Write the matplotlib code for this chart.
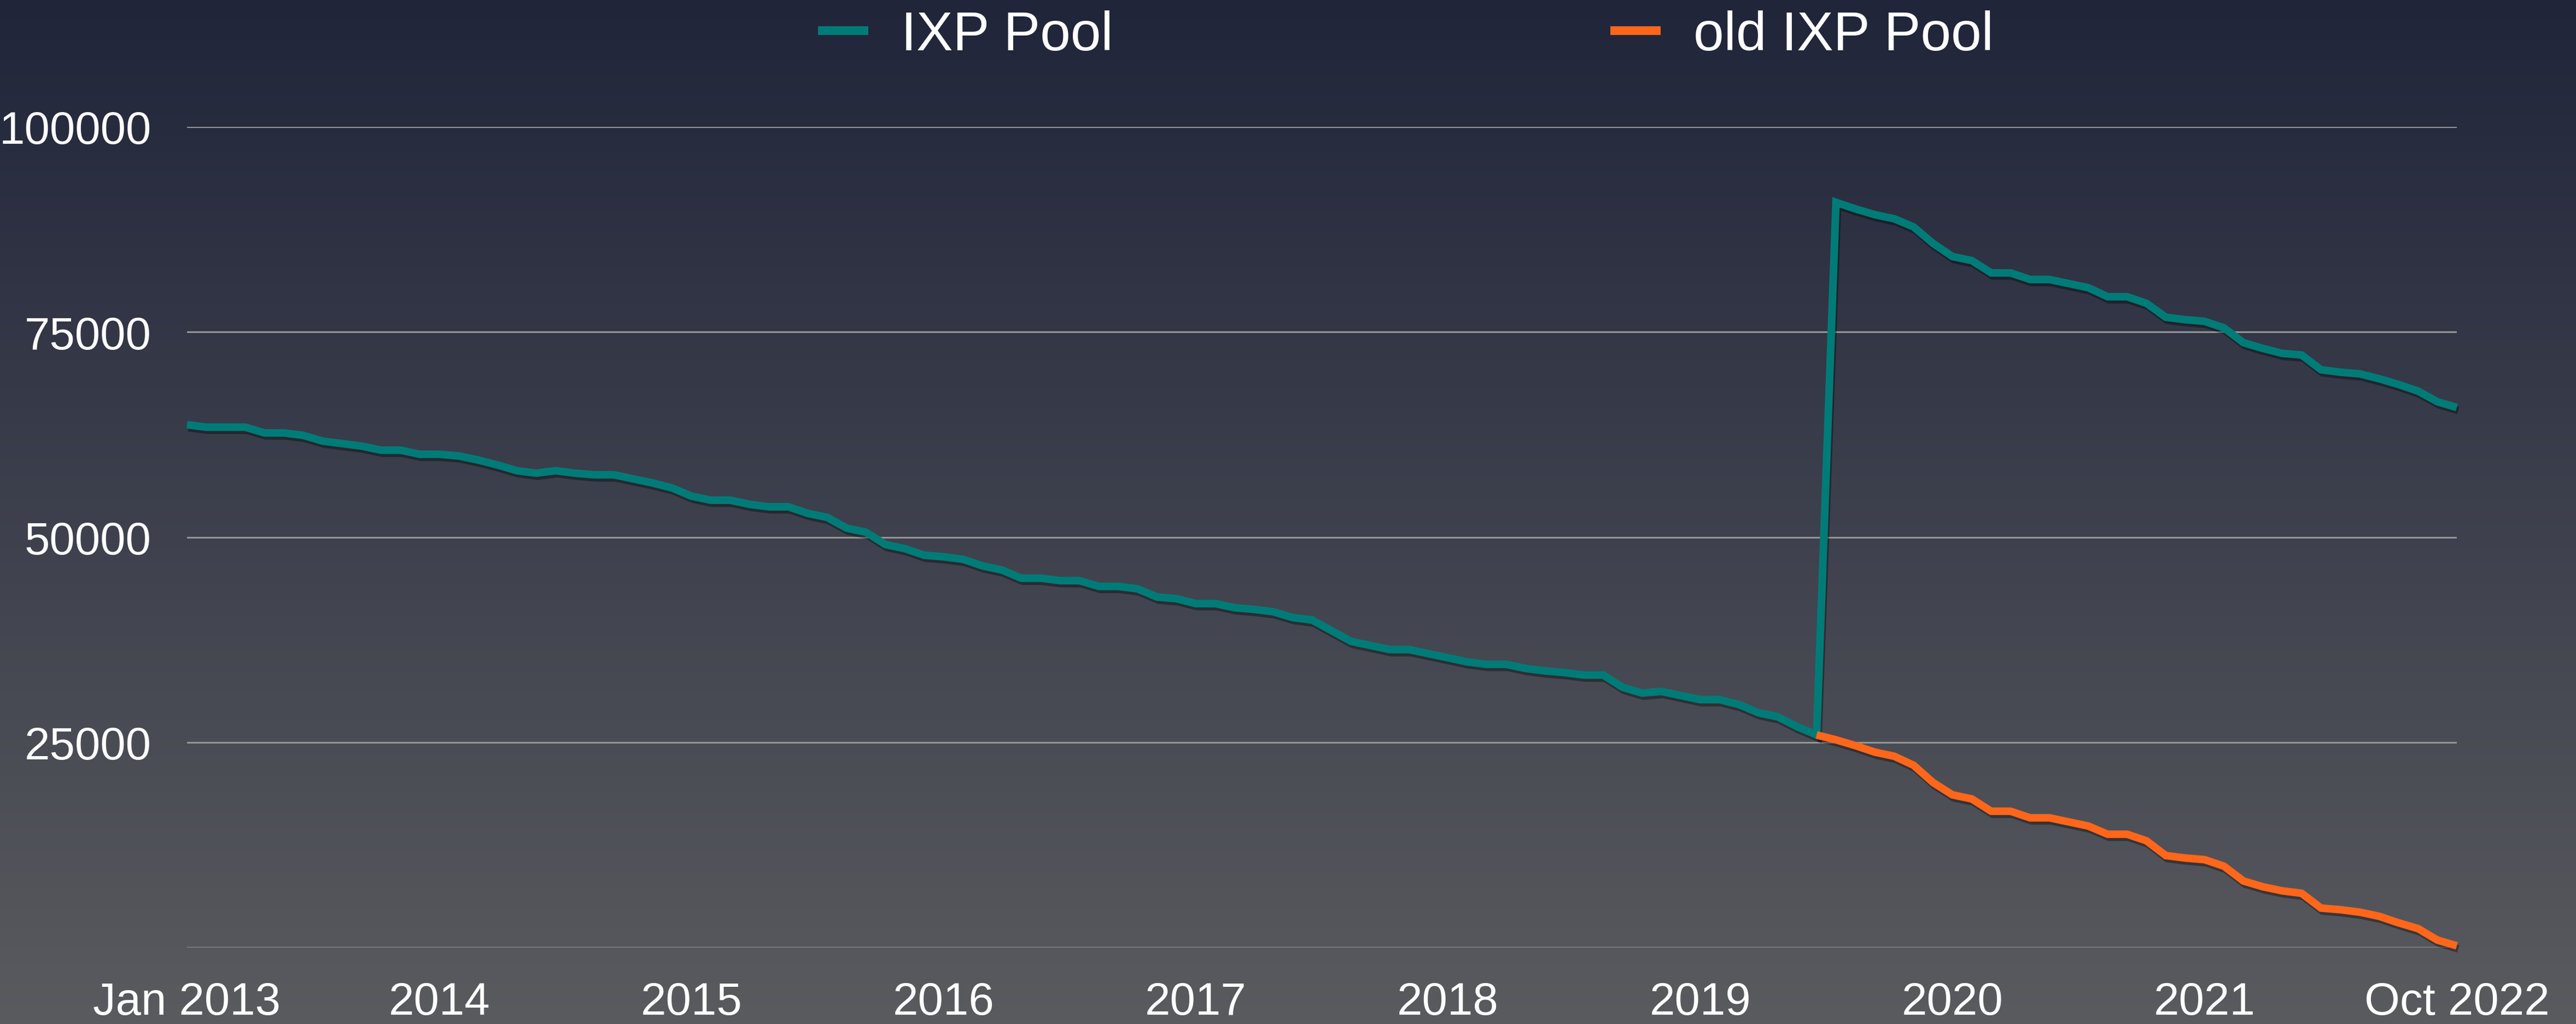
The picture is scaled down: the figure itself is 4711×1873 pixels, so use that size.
import numpy as np
import matplotlib
matplotlib.use("Agg")
import matplotlib.pyplot as plt
import matplotlib.patheffects as pe
from matplotlib.colors import LinearSegmentedColormap
from matplotlib.lines import Line2D

# ── Data (monthly, Jan 2013 .. Oct 2022) ────────────────────────────────
ixp_pool = [
    63700, 63400, 63400, 63400, 62700, 62700, 62400, 61700, 61400, 61100,
    60600, 60600, 60100, 60100, 59900, 59400, 58800, 58100, 57800, 58100,
    57800, 57600, 57600, 57100, 56600, 56000, 55000, 54500, 54500, 54000,
    53700, 53700, 52900, 52400, 51100, 50600, 49100, 48600, 47800, 47600,
    47300, 46500, 46000, 45000, 45000, 44700, 44700, 44000, 44000, 43700,
    42700, 42500, 41900, 41900, 41400, 41200, 40900, 40200, 39900, 38600,
    37300, 36800, 36300, 36300, 35800, 35300, 34800, 34500, 34500, 34000,
    33700, 33500, 33200, 33200, 31700, 31000, 31200, 30700, 30200, 30200,
    29600, 28600, 28100, 26900, 25900, 90800, 90000, 89300, 88800, 87800,
    85800, 84200, 83700, 82200, 82200, 81400, 81400, 80900, 80400, 79300,
    79300, 78500, 76800, 76500, 76300, 75500, 73700, 73000, 72400, 72200,
    70400, 70100, 69900, 69300, 68600, 67800, 66500, 65800,
]
old_ixp_pool = [
    25900, 25300, 24600, 23800, 23300, 22200, 20100, 18600, 18100, 16600,
    16600, 15800, 15800, 15300, 14800, 13800, 13800, 13000, 11200, 10900,
    10700, 9900, 8100, 7400, 6900, 6600, 4800, 4600, 4300, 3800,
    3000, 2300, 900, 200,
]
old_start = 84  # month index where the old pool series begins

x_labels = ["Jan 2013", "2014", "2015", "2016", "2017", "2018", "2019",
            "2020", "2021", "Oct 2022"]
y_ticks = [0, 25000, 50000, 75000, 100000]
y_labels = ["", "25000", "50000", "75000", "100000"]

TEAL = "#007c78"
ORANGE = "#ff661a"
GRID = "#969696"

plt.rcParams["font.family"] = ["Liberation Sans", "DejaVu Sans"]

fig = plt.figure(figsize=(47.11, 18.74), dpi=100)

# background gradient
bg = fig.add_axes([0, 0, 1, 1], zorder=-10)
cmap = LinearSegmentedColormap.from_list("bg", ["#20253a", "#5a5b5f"])
bg.imshow(np.linspace(0, 1, 256).reshape(-1, 1), aspect="auto", cmap=cmap,
          extent=[0, 1, 0, 1], origin="upper")
bg.set_axis_off()

ax = fig.add_axes([342 / 4711, 140 / 1874, 4151 / 4711, 1501 / 1874])
ax.set_facecolor("none")

x = np.arange(len(ixp_pool))
x_old = np.arange(old_start, old_start + len(old_ixp_pool))

shadow = [pe.SimpleLineShadow(offset=(2, -4), shadow_color="black", alpha=0.35),
          pe.Normal()]
ax.plot(x, ixp_pool, color=TEAL, lw=10, solid_joinstyle="miter",
        solid_capstyle="butt", clip_on=False, zorder=3, path_effects=shadow)
ax.plot(x_old, old_ixp_pool, color=ORANGE, lw=10, solid_joinstyle="miter",
        solid_capstyle="butt", clip_on=False, zorder=4, path_effects=shadow)

ax.set_xlim(0, len(ixp_pool) - 1)
ax.set_ylim(0, 100000)
ax.set_yticks(y_ticks)
ax.set_yticklabels(y_labels)
ax.set_xticks(np.linspace(0, len(ixp_pool) - 1, len(x_labels)))
ax.set_xticklabels(x_labels)
ax.tick_params(length=0, labelcolor="white", labelsize=60)
ax.tick_params(axis="y", pad=47)
ax.tick_params(axis="x", pad=44)
ax.yaxis.grid(True, color=GRID, lw=2.2)
ax.set_axisbelow(True)
for s in ax.spines.values():
    s.set_visible(False)

handles = [Line2D([], [], color=TEAL, lw=11.5, solid_capstyle="butt"),
           Line2D([], [], color=ORANGE, lw=11.5, solid_capstyle="butt")]
fig.legend(handles, ["IXP Pool", "old IXP Pool"], loc="center",
           bbox_to_anchor=(2571 / 4711, 1 - 66 / 1874), ncol=2, frameon=False,
           fontsize=72, labelcolor="white", handlelength=0.92,
           handletextpad=0.6, columnspacing=9.1, borderpad=0)

fig.savefig("out.png", dpi=100)
